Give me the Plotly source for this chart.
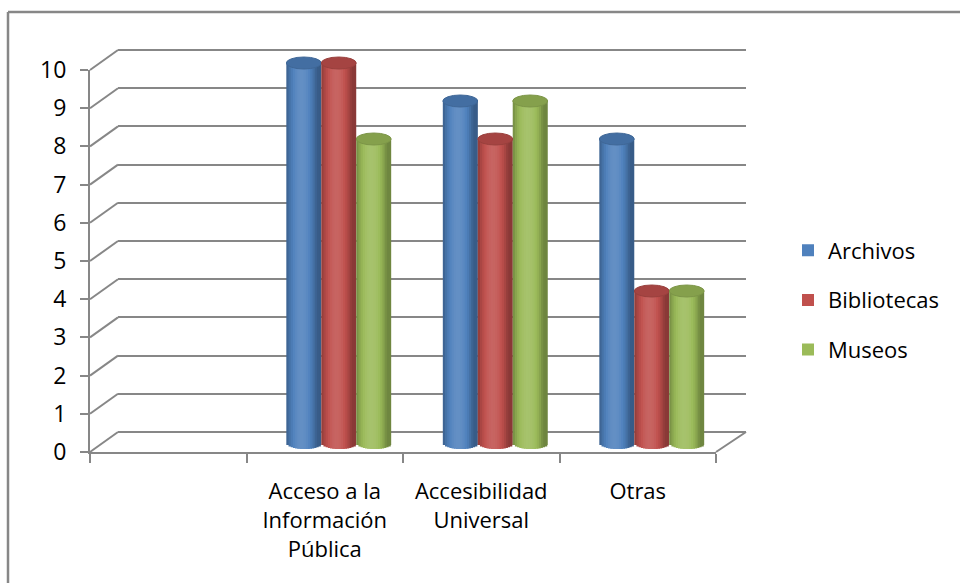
import numpy as np
import plotly.graph_objects as go

# ---------------- data ----------------
axis_categories = [" ", "Acceso a la<br>Información<br>Pública", "Accesibilidad<br>Universal", "Otras"]
data_categories = ["Acceso a la<br>Información<br>Pública", "Accesibilidad<br>Universal", "Otras"]
series_names = ["Archivos", "Bibliotecas", "Museos"]
archivos = [10, 9, 8]
bibliotecas = [10, 8, 4]
museos = [8, 9, 4]
y_ticks = list(range(0, 11))

series_values = [archivos, bibliotecas, museos]
colors = ["#4F81BD", "#C0504D", "#9BBB59"]

# ---------------- geometry (pixels) ----------------
W, H = 960, 583
def px(x):
    return x / W
def py(y):
    return 1 - y / H

FRONT = dict(x0=90, x1=716, y0=452, y10=70)
MID = dict(x0=104, x1=730, y0=443, y10=63)
BACK = dict(x0=118, x1=746, y0=432, y10=50)
GRID = "#878787"
FONT = "Open Sans"

unit_mid = (MID["y0"] - MID["y10"]) / 10.0
bar_range = [-0.3, 10.4]
bar_dom = [py(MID["y0"] - bar_range[0] * unit_mid), py(MID["y0"] - bar_range[1] * unit_mid)]

unit_back = (BACK["y0"] - BACK["y10"]) / 10.0
back_range = [-0.05, 10.05]
back_dom = [py(BACK["y0"] - back_range[0] * unit_back), py(BACK["y0"] - back_range[1] * unit_back)]

def shade(hexc, f):
    h = hexc.lstrip("#")
    r, g, b = (int(h[i:i + 2], 16) for i in (0, 2, 4))
    if f >= 1:
        r, g, b = (c + (255 - c) * (f - 1) for c in (r, g, b))
    else:
        r, g, b = (c * f for c in (r, g, b))
    return "rgb(%d,%d,%d)" % (max(0, min(255, r)), max(0, min(255, g)), max(0, min(255, b)))

fig = go.Figure()

# invisible traces so the back-wall and front-axis subplots are drawn
fig.add_trace(go.Scatter(x=[None], y=[None], xaxis="x", yaxis="y", showlegend=False, hoverinfo="skip"))

# ---------------- cylinders built from vertical strips ----------------
N = 16
group_w = 0.67
bar_w = group_w / len(series_names)
cap_h = 12.0 / unit_mid  # ellipse height in data units
shapes = []

for s, (name, vals, col) in enumerate(zip(series_names, series_values, colors)):
    xs, ys, bases, offs, widths, cols = [], [], [], [], [], []
    start = -group_w / 2 + s * bar_w
    sw = bar_w / N
    for c, v in zip(data_categories, vals):
        xi = axis_categories.index(c)
        for k in range(N):
            t = (k + 0.5) / N
            u = 2 * t - 1
            curve = np.sqrt(max(0.0, 1 - u * u))
            b = -(cap_h / 2) * curve
            xs.append(xi)
            bases.append(b)
            ys.append(v - b)
            offs.append(start + k * sw)
            widths.append(sw * (1.8 if k < N - 1 else 1.0))
            light = 0.72 + 0.40 * np.sin(np.pi * min(1.0, t * 1.15)) ** 0.8
            cols.append(shade(col, light))
        shapes.append(dict(type="circle", xref="x2", yref="y2",
                           x0=xi + start, x1=xi + start + bar_w,
                           y0=v - cap_h / 2, y1=v + cap_h / 2,
                           fillcolor=shade(col, 0.86), line=dict(color=shade(col, 0.8), width=1),
                           layer="above"))
    fig.add_trace(go.Bar(x=xs, y=ys, base=bases, offset=offs, width=widths,
                         marker=dict(color=cols, line=dict(width=0)),
                         xaxis="x2", yaxis="y2", showlegend=False, hoverinfo="skip"))
    fig.add_trace(go.Bar(x=[None], y=[None], name=name, marker=dict(color=col, line=dict(width=0)),
                         xaxis="x2", yaxis="y2", showlegend=True, legendgroup=name))

fig.add_trace(go.Scatter(x=[None], y=[None], xaxis="x3", yaxis="y3", showlegend=False, hoverinfo="skip"))

# ---------------- diagonal wall edges ----------------
unit_front = (FRONT["y0"] - FRONT["y10"]) / 10.0
for v in y_ticks:
    shapes.append(dict(type="line", xref="paper", yref="paper",
                       x0=px(FRONT["x0"]), y0=py(FRONT["y0"] - v * unit_front),
                       x1=px(BACK["x0"]), y1=py(BACK["y0"] - v * unit_back),
                       line=dict(color=GRID, width=2), layer="below"))
shapes.append(dict(type="line", xref="paper", yref="paper",
                   x0=px(FRONT["x1"]), y0=py(FRONT["y0"]), x1=px(BACK["x1"]), y1=py(BACK["y0"]),
                   line=dict(color=GRID, width=2), layer="below"))
# chart-area border (top and left edges visible)
shapes.append(dict(type="line", xref="paper", yref="paper", x0=px(8), y0=py(12), x1=1.0, y1=py(12),
                   line=dict(color=GRID, width=2.5)))
shapes.append(dict(type="line", xref="paper", yref="paper", x0=px(8), y0=py(12), x1=px(8), y1=0.0,
                   line=dict(color=GRID, width=2.5)))

fig.update_layout(
    width=W, height=H,
    margin=dict(l=0, r=0, t=0, b=0, pad=0, autoexpand=False),
    paper_bgcolor="white", plot_bgcolor="rgba(0,0,0,0)",
    font=dict(family=FONT, size=22, color="#000000"),
    barmode="overlay",
    shapes=shapes,
    # back wall gridlines
    xaxis=dict(domain=[px(BACK["x0"]), px(BACK["x1"])], range=[0, 1], visible=False, automargin=False),
    yaxis=dict(domain=back_dom, range=back_range, tickvals=y_ticks,
               showgrid=True, gridcolor=GRID, gridwidth=2, zeroline=False, showticklabels=False,
               ticks="", showline=False, anchor="x", automargin=False),
    # bar plane
    xaxis2=dict(domain=[px(MID["x0"]), px(MID["x1"])], range=[-0.5, 3.5], visible=False, anchor="y2",
                automargin=False),
    yaxis2=dict(domain=bar_dom, range=bar_range, visible=False, anchor="x2", automargin=False),
    # front axes
    xaxis3=dict(domain=[px(FRONT["x0"]), px(FRONT["x1"])], range=[-0.5, 3.5],
                tickvals=list(range(len(axis_categories))), ticktext=axis_categories,
                ticks="", showgrid=False, zeroline=False, showline=True, linecolor=GRID, linewidth=2,
                tickfont=dict(size=22, family=FONT), anchor="y3", automargin=False,
                ticklabelstandoff=19,
                minor=dict(tickvals=[i - 0.5 for i in range(len(axis_categories) + 1)], ticks="outside",
                           ticklen=9, tickwidth=2, tickcolor=GRID, showgrid=False)),
    yaxis3=dict(domain=[py(FRONT["y0"]), py(FRONT["y10"])], range=[0, 10], tickvals=y_ticks,
                ticks="outside", ticklen=8, tickwidth=2, tickcolor=GRID, showline=True,
                linecolor=GRID, linewidth=2, showgrid=False, zeroline=False,
                tickfont=dict(size=23, family=FONT), anchor="x3", automargin=False,
                ticklabelstandoff=9),
    legend=dict(x=px(788), y=py(300), xanchor="left", yanchor="middle",
                traceorder="grouped", tracegroupgap=18, font=dict(size=22, family=FONT),
                bgcolor="rgba(0,0,0,0)"),
)

fig.write_html("out.html", config={"displayModeBar": False},
               post_script="document.body.style.margin='0';")
